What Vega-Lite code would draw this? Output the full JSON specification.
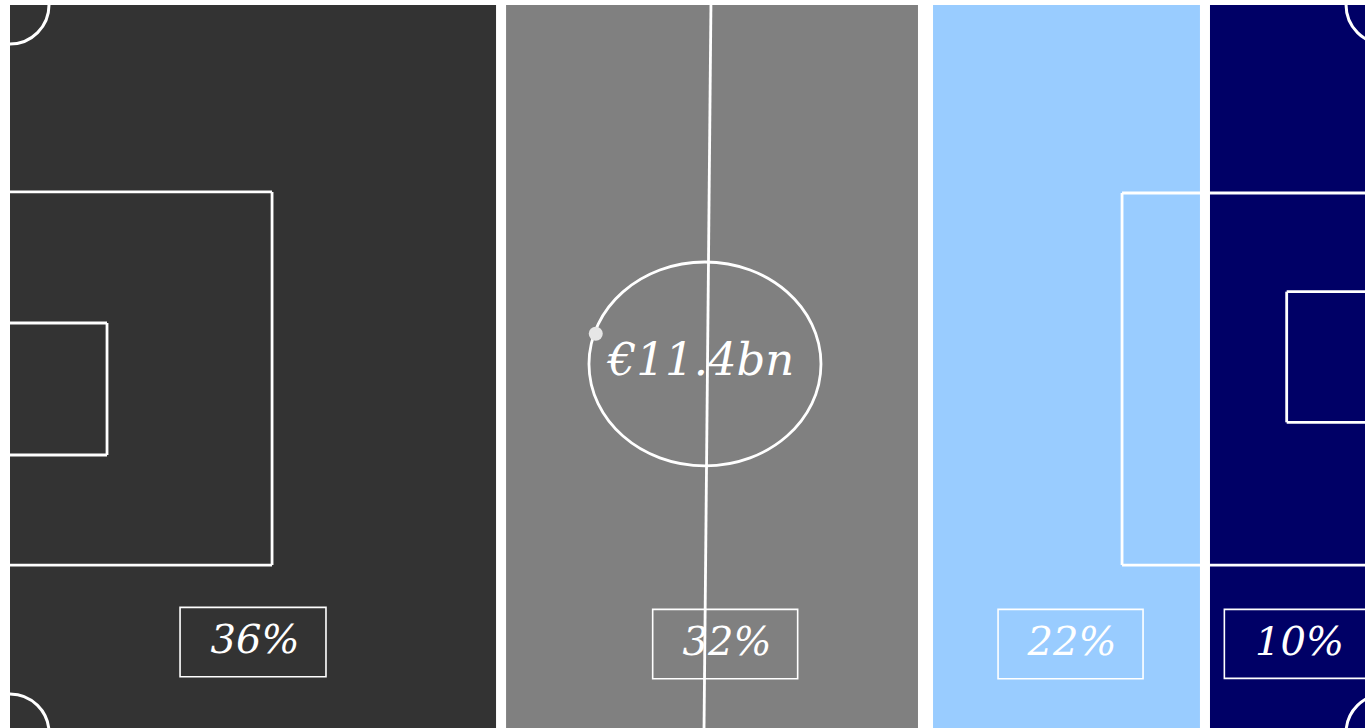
{
  "$schema": "https://vega.github.io/schema/vega-lite/v6.json",
  "autosize": {"type": "none"},
  "padding": {"left": 10, "top": 5, "right": 0, "bottom": 0},
  "width": 1355,
  "height": 723,
  "background": "white",
  "config": {"view": {"stroke": null}},
  "datasets": {
    "zones": [
      {"zone": "Zone 1", "start": 0, "end": 35.87},
      {"zone": "Zone 2", "start": 36.61, "end": 67.01},
      {"zone": "Zone 3", "start": 68.12, "end": 87.82},
      {"zone": "Zone 4", "start": 88.56, "end": 103}
    ],
    "lines": [
      {"part": "left box top", "x1": 0, "y1": 25.86, "x2": 19.34, "y2": 25.86},
      {"part": "left box side", "x1": 19.34, "y1": 25.86, "x2": 19.34, "y2": 77.46},
      {"part": "left box bottom", "x1": 0, "y1": 77.46, "x2": 19.34, "y2": 77.46},
      {"part": "left goal top", "x1": 0, "y1": 43.98, "x2": 7.16, "y2": 43.98},
      {"part": "left goal side", "x1": 7.16, "y1": 43.98, "x2": 7.16, "y2": 62.24},
      {"part": "left goal bottom", "x1": 0, "y1": 62.24, "x2": 7.16, "y2": 62.24},
      {"part": "right box top", "x1": 82.07, "y1": 26.0, "x2": 102, "y2": 26.0},
      {"part": "right box side", "x1": 82.07, "y1": 26.0, "x2": 82.07, "y2": 77.46},
      {"part": "right box bottom", "x1": 82.07, "y1": 77.46, "x2": 102, "y2": 77.46},
      {"part": "right goal top", "x1": 94.22, "y1": 39.65, "x2": 102, "y2": 39.65},
      {"part": "right goal side", "x1": 94.22, "y1": 39.65, "x2": 94.22, "y2": 57.72},
      {"part": "right goal bottom", "x1": 94.22, "y1": 57.72, "x2": 102, "y2": 57.72},
      {"part": "halfway line", "x1": 51.73, "y1": 0, "x2": 51.22, "y2": 100}
    ],
    "centre": [{"x": 51.29, "y": 49.65}],
    "spot": [{"x": 43.23, "y": 45.46}],
    "corners": [
      {"x": 0, "y": 0},
      {"x": 0, "y": 100.69},
      {"x": 101.48, "y": 0},
      {"x": 101.48, "y": 100.69}
    ],
    "boxes": [
      {"label": "36%", "x1": 12.55, "x2": 23.32, "y1": 83.31, "y2": 92.91, "tx": 18.08, "ty": 87.97},
      {"label": "32%", "x1": 47.43, "x2": 58.13, "y1": 83.59, "y2": 93.18, "tx": 52.92, "ty": 88.24},
      {"label": "22%", "x1": 72.92, "x2": 83.62, "y1": 83.59, "y2": 93.18, "tx": 78.38, "ty": 88.24},
      {"label": "10%", "x1": 89.62, "x2": 100.33, "y1": 83.59, "y2": 93.13, "tx": 95.17, "ty": 88.24}
    ],
    "total": [{"label": "€11.4bn", "x": 51.0, "y": 49.24}]
  },
  "layer": [
    {
      "data": {"name": "zones"},
      "mark": {"type": "rect", "clip": true},
      "encoding": {
        "x": {"field": "start", "type": "quantitative", "scale": {"domain": [0, 100], "nice": false, "zero": false}, "axis": null},
        "x2": {"field": "end"},
        "y": {"datum": 0, "type": "quantitative", "scale": {"domain": [0, 100], "nice": false, "zero": false, "reverse": true}, "axis": null},
        "y2": {"datum": 102},
        "color": {"field": "zone", "type": "nominal", "scale": {"domain": ["Zone 1", "Zone 2", "Zone 3", "Zone 4"], "range": ["#333333", "#808080", "#99ccff", "#000066"]}, "legend": null}
      }
    },
    {
      "data": {"name": "lines"},
      "mark": {"type": "rule", "color": "white", "strokeWidth": 2.8, "clip": true},
      "encoding": {
        "x": {"field": "x1", "type": "quantitative", "scale": {"domain": [0, 100], "nice": false, "zero": false}, "axis": null},
        "x2": {"field": "x2"},
        "y": {"field": "y1", "type": "quantitative", "scale": {"domain": [0, 100], "nice": false, "zero": false, "reverse": true}, "axis": null},
        "y2": {"field": "y2"}
      }
    },
    {
      "data": {"name": "centre"},
      "mark": {"type": "point", "filled": false, "stroke": "white", "strokeWidth": 2.8, "opacity": 1, "size": 53824, "clip": true,
        "shape": "M 1 0 C 1 0.4855 0.5523 0.879 0 0.879 C -0.5523 0.879 -1 0.4855 -1 0 C -1 -0.4855 -0.5523 -0.879 0 -0.879 C 0.5523 -0.879 1 -0.4855 1 0 Z"},
      "encoding": {
        "x": {"field": "x", "type": "quantitative", "scale": {"domain": [0, 100], "nice": false, "zero": false}, "axis": null},
        "y": {"field": "y", "type": "quantitative", "scale": {"domain": [0, 100], "nice": false, "zero": false, "reverse": true}, "axis": null}
      }
    },
    {
      "data": {"name": "corners"},
      "mark": {"type": "point", "shape": "circle", "filled": false, "stroke": "white", "strokeWidth": 3, "opacity": 1, "size": 6084, "clip": true},
      "encoding": {
        "x": {"field": "x", "type": "quantitative", "scale": {"domain": [0, 100], "nice": false, "zero": false}, "axis": null},
        "y": {"field": "y", "type": "quantitative", "scale": {"domain": [0, 100], "nice": false, "zero": false, "reverse": true}, "axis": null}
      }
    },
    {
      "data": {"name": "spot"},
      "mark": {"type": "point", "shape": "circle", "filled": true, "color": "#e6e6e6", "opacity": 1, "size": 196},
      "encoding": {
        "x": {"field": "x", "type": "quantitative", "scale": {"domain": [0, 100], "nice": false, "zero": false}, "axis": null},
        "y": {"field": "y", "type": "quantitative", "scale": {"domain": [0, 100], "nice": false, "zero": false, "reverse": true}, "axis": null}
      }
    },
    {
      "data": {"name": "boxes"},
      "mark": {"type": "rect", "fill": null, "fillOpacity": 0, "stroke": "white", "strokeWidth": 1.6, "clip": true},
      "encoding": {
        "x": {"field": "x1", "type": "quantitative", "scale": {"domain": [0, 100], "nice": false, "zero": false}, "axis": null},
        "x2": {"field": "x2"},
        "y": {"field": "y1", "type": "quantitative", "scale": {"domain": [0, 100], "nice": false, "zero": false, "reverse": true}, "axis": null},
        "y2": {"field": "y2"}
      }
    },
    {
      "data": {"name": "boxes"},
      "mark": {"type": "text", "font": "DejaVu Serif", "fontStyle": "italic", "fontSize": 40, "color": "white", "align": "center", "baseline": "middle"},
      "encoding": {
        "x": {"field": "tx", "type": "quantitative", "scale": {"domain": [0, 100], "nice": false, "zero": false}, "axis": null},
        "y": {"field": "ty", "type": "quantitative", "scale": {"domain": [0, 100], "nice": false, "zero": false, "reverse": true}, "axis": null},
        "text": {"field": "label"}
      }
    },
    {
      "data": {"name": "total"},
      "mark": {"type": "text", "font": "DejaVu Serif", "fontStyle": "italic", "fontSize": 45, "color": "white", "align": "center", "baseline": "middle"},
      "encoding": {
        "x": {"field": "x", "type": "quantitative", "scale": {"domain": [0, 100], "nice": false, "zero": false}, "axis": null},
        "y": {"field": "y", "type": "quantitative", "scale": {"domain": [0, 100], "nice": false, "zero": false, "reverse": true}, "axis": null},
        "text": {"field": "label"}
      }
    }
  ]
}
